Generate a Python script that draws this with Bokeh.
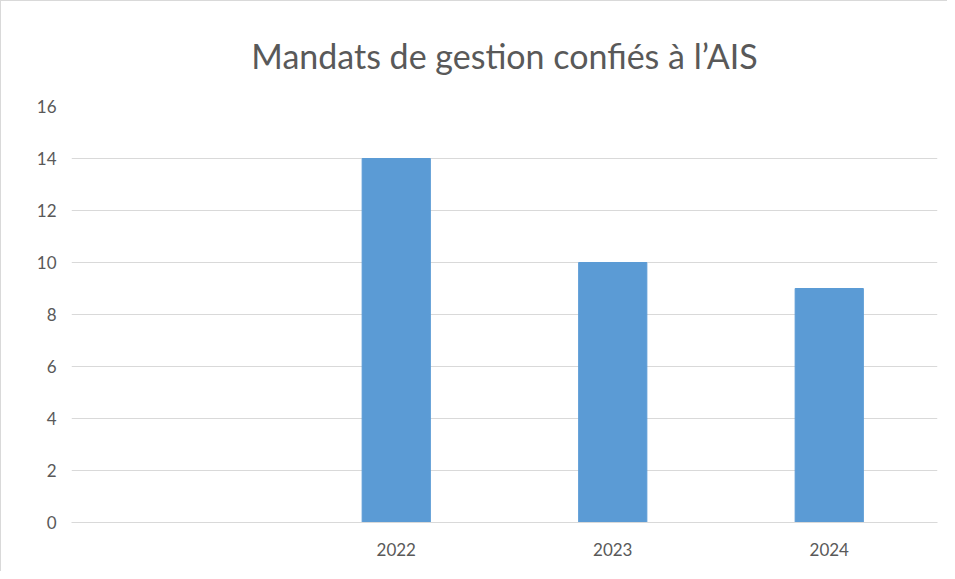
from bokeh.plotting import figure
from bokeh.models import Range1d, FixedTicker
from bokeh.embed import file_html
from bokeh.resources import INLINE

categories = ["", "2022", "2023", "2024"]
values = [0, 14, 10, 9]
y_ticks = [0, 2, 4, 6, 8, 10, 12, 14, 16]

p = figure(x_range=categories, width=947, height=571, output_backend="svg",
           toolbar_location=None, title="Mandats de gestion confiés à l’AIS",
           min_border_left=70, min_border_right=11, min_border_bottom=50, min_border_top=5)
p.y_range = Range1d(0, 16)
p.vbar(x=categories[1:], top=values[1:], width=0.315, color="#5b9bd5")

p.title.align = "center"
p.title.text_font = "Lato"
p.title.text_font_size = "34px"
p.title.text_font_style = "normal"
p.title.text_color = "#595959"
p.title.standoff = 62

p.outline_line_color = None
p.xgrid.grid_line_color = None
p.ygrid.grid_line_color = "#d9d9d9"
p.ygrid.grid_line_width = 1
p.yaxis.ticker = FixedTicker(ticks=y_ticks)
for ax in (p.xaxis[0], p.yaxis[0]):
    ax.major_tick_line_color = None
    ax.minor_tick_line_color = None
    ax.major_label_text_font = "Lato"
    ax.major_label_text_font_size = "17px"
    ax.major_label_text_color = "#595959"
p.yaxis.axis_line_color = None
p.yaxis.major_label_standoff = 9
p.xaxis.axis_line_color = "#d9d9d9"
p.xaxis.major_label_standoff = 14
p.x_range.range_padding = 0
p.styles = {"border-left": "1px solid #d9d9d9", "border-top": "1px solid #d9d9d9"}

open("out.html", "w").write(file_html(p, INLINE))
